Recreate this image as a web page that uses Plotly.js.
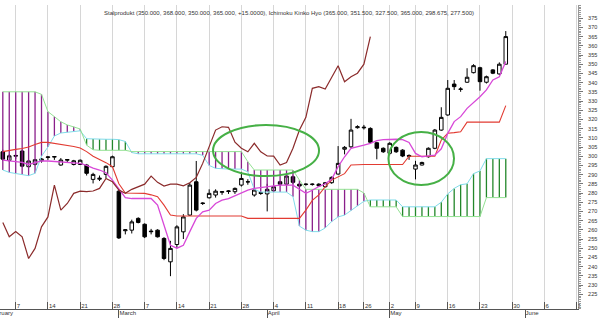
<!DOCTYPE html>
<html><head><meta charset="utf-8">
<script src="https://cdn.plot.ly/plotly-3.0.1.min.js"></script>
<style>html,body{margin:0;padding:0;background:#fff;overflow:hidden}#chart{width:609px;height:325px}</style>
</head><body><div id="chart"></div>
<script>
// trading days (WSE 2011), Feb 3 .. Jun 13
const febDays = [3,4,7,8,9,10,11,14,15,16,17,18,21,22,23,24,25,28];
const marDays = [1,2,3,4,7,8,9,10,11,14,15,16,17,18,21,22,23,24,25,28,29,30,31];
const aprDays = [1,4,5,6,7,8,11,12,13,14,15,18,19,20,21,26,27,28,29];
const mayDays = [2,4,5,6,9,10,11,12,13,16,17,18,19,20,23,24,25,26,27,30,31];
const junDays = [1,2,3,6,7,8,9,10,13];

const open  = [302.4,297.7,300.0,302.8,294.3,295.6,297.5,299.3,299.5,295.2,297.8,295.5,295.5,295.2,287.4,287.5,290.1,294.3,281.0,259.5,
  259.8,266.2,263.0,259.3,259.8,255.3,242.6,252.0,258.9,268.0,286.1,274.6,277.4,278.9,280.4,280.8,280.7,284.3,286.0,278.9,
  280.2,279.5,281.2,286.1,284.8,288.8,284.8,284.6,284.6,284.8,283.4,285.6,290.3,303.8,305.1,315.5,315.4,315.1,307.3,304.3,
  301.6,304.8,303.3,300.4,293.0,295.2,299.7,304.3,314.2,322.4,339.2,336.3,340.2,345.4,348.1,340.2,346.9,344.7,350.0];
const high  = [303.5,301.0,300.6,303.5,298.0,298.5,299.0,300.0,300.0,299.0,298.4,298.0,298.2,295.8,291.0,289.5,295.0,300.3,282.0,260.3,
  265.5,266.8,263.5,260.5,260.3,256.0,254.0,262.5,268.5,285.5,297.4,275.0,282.0,282.0,281.0,281.5,283.0,291.5,287.5,282.0,
  280.5,285.0,284.0,286.6,290.0,289.5,285.5,285.2,285.2,285.3,286.0,289.0,305.5,305.5,320.3,316.8,317.0,315.7,307.8,304.8,
  307.6,305.3,303.8,301.0,297.5,297.0,304.8,314.8,326.6,341.4,341.4,337.5,347.8,350.0,348.6,343.8,347.3,351.0,368.0];
const low   = [297.5,297.0,298.5,294.0,293.5,295.0,296.5,298.0,298.0,294.8,296.5,295.0,295.2,289.5,285.2,286.5,288.0,294.0,255.0,257.5,
  258.0,263.5,255.5,257.5,255.8,243.5,234.8,250.0,255.0,267.5,270.0,273.5,277.0,277.5,279.0,279.5,279.5,283.5,284.5,278.0,
  279.0,270.0,280.5,284.0,284.3,285.0,283.0,284.0,284.0,283.5,283.0,285.0,290.0,301.0,304.5,315.0,314.5,307.0,298.3,301.8,
  300.5,301.8,299.5,298.0,287.4,295.0,299.2,303.8,313.8,322.0,336.0,335.0,339.8,345.0,335.6,339.5,344.6,344.2,350.0];
const close = [298.4,300.2,300.4,294.6,297.4,298.1,298.5,299.6,299.8,297.9,298.2,297.5,297.8,290.7,290.1,288.0,294.5,299.7,255.6,260.0,
  264.3,264.0,256.2,259.0,256.2,244.4,249.9,261.6,267.0,284.3,270.7,274.3,279.8,281.0,280.7,281.1,282.5,287.9,286.1,281.6,
  279.8,282.0,283.4,284.8,289.2,285.8,283.8,284.8,284.8,283.9,285.6,288.5,296.1,304.8,314.2,316.0,315.7,307.6,304.3,302.4,
  307.0,302.4,300.1,300.0,295.2,296.6,304.3,314.2,321.1,336.9,337.8,336.5,342.9,349.2,340.5,343.2,345.1,350.0,365.0];

const tenkan = [297.9,297.5,297.0,296.6,295.5,296.5,297.4,297.4,297.2,297.0,296.8,296.5,296.1,295.0,293.5,292.5,291.0,287.0,282.5,277.5,
  277.0,277.0,277.0,277.0,273.4,262.0,251.6,250.0,251.6,259.0,266.2,269.8,270.7,274.3,276.1,277.0,278.5,280.0,281.6,282.5,
  283.0,283.5,284.0,284.3,284.3,284.3,282.0,279.8,281.5,283.5,285.0,287.5,294.3,299.7,304.3,305.0,306.0,307.0,308.5,309.0,
  309.2,309.2,309.0,307.5,301.5,299.7,300.2,300.6,304.0,312.4,318.8,321.5,326.0,329.0,332.3,336.0,341.4,343.2,351.5];
const kijun = [302.5,303.3,303.7,304.2,305.0,306.4,307.5,307.5,307.0,306.5,306.0,305.3,304.5,302.5,300.0,298.4,296.5,294.3,285.0,280.0,
  279.8,279.8,279.8,279.0,278.0,273.4,268.0,267.5,267.5,267.5,267.5,267.5,267.5,267.5,267.5,267.5,267.5,267.5,266.2,266.2,
  266.2,266.2,266.2,266.2,266.2,266.2,266.2,270.7,276.0,279.0,283.4,287.0,288.8,290.5,295.2,295.5,295.5,295.5,295.5,295.5,
  295.5,295.5,295.5,300.0,300.0,300.0,300.0,300.0,308.8,312.5,312.8,313.3,318.5,318.5,318.5,318.5,318.5,318.5,327.5];
const spanA = [292.5,291.2,290.6,290.1,289.4,290.7,300.0,305.0,311.0,312.6,313.0,313.4,313.8,309.5,309.3,309.2,309.2,309.2,309.0,308.0,
  302.0,301.3,301.3,301.3,301.3,301.3,301.3,301.3,301.3,301.3,301.3,300.5,295.0,293.4,293.0,293.0,293.0,293.0,291.5,282.0,
  280.5,280.5,280.5,280.5,280.5,278.0,262.0,259.8,259.0,259.0,261.0,264.5,267.0,268.0,270.5,273.0,275.5,276.2,276.2,276.2,
  276.2,276.2,272.5,272.5,272.5,272.5,272.5,272.5,275.0,279.5,282.5,284.5,285.0,290.5,292.0,298.675,298.675,298.675,298.675];
const spanB = [335.0,335.0,335.0,335.0,335.0,335.0,333.6,324.2,321.5,318.7,317.0,316.0,314.8,306.0,303.5,303.2,303.2,303.2,303.2,303.2,
  302.5,302.5,302.5,302.5,302.5,302.5,302.5,302.5,302.5,302.5,302.5,302.5,302.5,302.5,302.5,302.5,302.5,302.5,297.0,292.5,
  292.5,292.5,292.5,292.5,292.5,292.5,287.0,282.0,282.0,282.0,282.0,282.0,282.0,282.0,282.0,282.0,280.0,272.5,272.5,272.5,
  272.5,272.5,267.2,267.2,267.2,267.2,267.2,267.2,267.2,267.2,267.2,267.2,267.2,267.2,267.2,277.5,277.5,277.5,277.5];

const chikouShift = 21;
const weekStarts = ['2011-02-07','2011-02-14','2011-02-21','2011-02-28','2011-03-07','2011-03-14','2011-03-21','2011-03-28',
  '2011-04-04','2011-04-11','2011-04-18','2011-04-26','2011-05-02','2011-05-09','2011-05-16','2011-05-23','2011-05-30','2011-06-06','2011-06-13'];
const weekLabels = ['7','14','21','28','7','14','21','28','4','11','18','26','2','9','16','23','30','6','1'];
const monthStarts = ['2011-03-01','2011-04-01','2011-05-02','2011-06-01'];
const monthLabels = ['March','April','May','June'];
const yTicks = [225,230,235,240,245,250,255,260,265,270,275,280,285,290,295,300,305,310,315,320,325,330,335,340,345,350,355,360,365,370,375];
const titleText = 'Stalprodukt (350.000, 368.000, 350.000, 365.000, +15.0000), Ichimoku Kinko Hyo (365.000, 351.500, 327.500, 365.000, 298.675, 277.500)';

const pad = d => (d < 10 ? '0' : '') + d;
const days = [].concat(
  febDays.map(d => '2011-02-' + pad(d)), marDays.map(d => '2011-03-' + pad(d)),
  aprDays.map(d => '2011-04-' + pad(d)), mayDays.map(d => '2011-05-' + pad(d)),
  junDays.map(d => '2011-06-' + pad(d)));
const n = close.length;
const xs = days.slice(0, n);

// cloud hatch
const hp = {x: [], y: []}, hg = {x: [], y: []};
for (let k = 0; k < n; k++) {
  const t = spanB[k] >= spanA[k] ? hp : hg;
  t.x.push(xs[k], xs[k], null); t.y.push(spanA[k], spanB[k], null);
}
const FONT = 'Liberation Sans, Arial, sans-serif';
const traces = [
  {type: 'candlestick', x: xs, open: open, high: high, low: low, close: close, whiskerwidth: 0,
   increasing: {line: {color: '#000', width: 1}, fillcolor: '#fff'},
   decreasing: {line: {color: '#000', width: 1}, fillcolor: '#000'}, hoverinfo: 'skip'},
  {type: 'scatter', mode: 'lines', x: hp.x, y: hp.y, line: {color: '#8a1f8a', width: 1.3}, hoverinfo: 'skip'},
  {type: 'scatter', mode: 'lines', x: hg.x, y: hg.y, line: {color: '#23872a', width: 1.3}, hoverinfo: 'skip'},
  {type: 'scatter', mode: 'lines', x: xs, y: spanA, line: {color: '#80dcea', width: 1}, hoverinfo: 'skip'},
  {type: 'scatter', mode: 'lines', x: xs, y: spanB, line: {color: '#93e293', width: 1}, hoverinfo: 'skip'},
  {type: 'scatter', mode: 'lines', x: xs, y: kijun, line: {color: '#e23b32', width: 1.1}, hoverinfo: 'skip'},
  {type: 'scatter', mode: 'lines', x: xs, y: tenkan, line: {color: '#d848d8', width: 1.3}, hoverinfo: 'skip'},
  {type: 'scatter', mode: 'lines', x: days.slice(0, n - chikouShift), y: close.slice(chikouShift),
   line: {color: '#8b2b2b', width: 1.2}, hoverinfo: 'skip'},
  {type: 'scatter', mode: 'markers', x: monthStarts, y: monthStarts.map(() => null), xaxis: 'x2', yaxis: 'y',
   marker: {opacity: 0}, hoverinfo: 'skip'}
];
const xr = [-0.435, 89.2];
const layout = {
  width: 609, height: 325, margin: {l: 0, r: 31, t: 5, b: 16},
  paper_bgcolor: '#fff', plot_bgcolor: '#fff', showlegend: false, boxgap: 0.22,
  font: {family: FONT, size: 6, color: '#333'},
  xaxis: {type: 'category', categoryorder: 'array', categoryarray: days, range: xr,
    rangeslider: {visible: false}, tickmode: 'array', tickvals: weekStarts, ticktext: weekLabels,
    showgrid: true, gridcolor: '#d6d6d6', gridwidth: 1, zeroline: false,
    showline: true, linecolor: '#555', linewidth: 1,
    ticks: 'inside', ticklen: 7, tickcolor: '#555', ticklabelposition: 'inside right',
    ticklabelstandoff: -5, ticklabeloverflow: 'allow',
    tickfont: {size: 6, color: '#333', family: FONT}},
  xaxis2: {type: 'category', categoryorder: 'array', categoryarray: days, range: xr, overlaying: 'x',
    anchor: 'y', side: 'bottom', tickmode: 'array', tickvals: monthStarts, ticktext: monthLabels,
    showgrid: false, zeroline: false, showline: false, ticks: 'outside', ticklen: 8, tickcolor: '#555',
    ticklabelposition: 'outside right', ticklabelstandoff: -2, tickfont: {size: 6, color: '#333', family: FONT}},
  yaxis: {side: 'right', range: [216.96, 382.17], tickmode: 'array', tickvals: yTicks,
    showgrid: false, zeroline: false, showline: true, linecolor: '#999', linewidth: 1,
    ticks: 'outside', ticklen: 4, tickcolor: '#777', ticklabelstandoff: 4,
    minor: {dtick: 1, ticklen: 2, tickcolor: '#999', ticks: 'outside', showgrid: false},
    tickfont: {size: 5.5, color: '#333', family: FONT}},
  shapes: [
    {type: 'circle', xref: 'x', yref: 'y', x0: 32.6, x1: 49.04, y0: 289.2, y1: 316.95, line: {color: '#46b046', width: 2}},
    {type: 'circle', xref: 'x', yref: 'y', x0: 59.8, x1: 69.97, y0: 284.35, y1: 313.2, line: {color: '#46b046', width: 2}}
  ],
  annotations: [
    {xref: 'paper', yref: 'paper', x: 0.5, y: 0.974, text: titleText, showarrow: false,
     xanchor: 'center', yanchor: 'middle', font: {size: 6, color: '#333', family: FONT}},
    {xref: 'paper', yref: 'paper', x: 15 / 578, y: -0.013, text: 'February', showarrow: false,
     xanchor: 'right', yanchor: 'middle', font: {size: 6, color: '#333', family: FONT}}
  ]
};
Plotly.newPlot('chart', traces, layout, {displayModeBar: false, staticPlot: true});
</script></body></html>
